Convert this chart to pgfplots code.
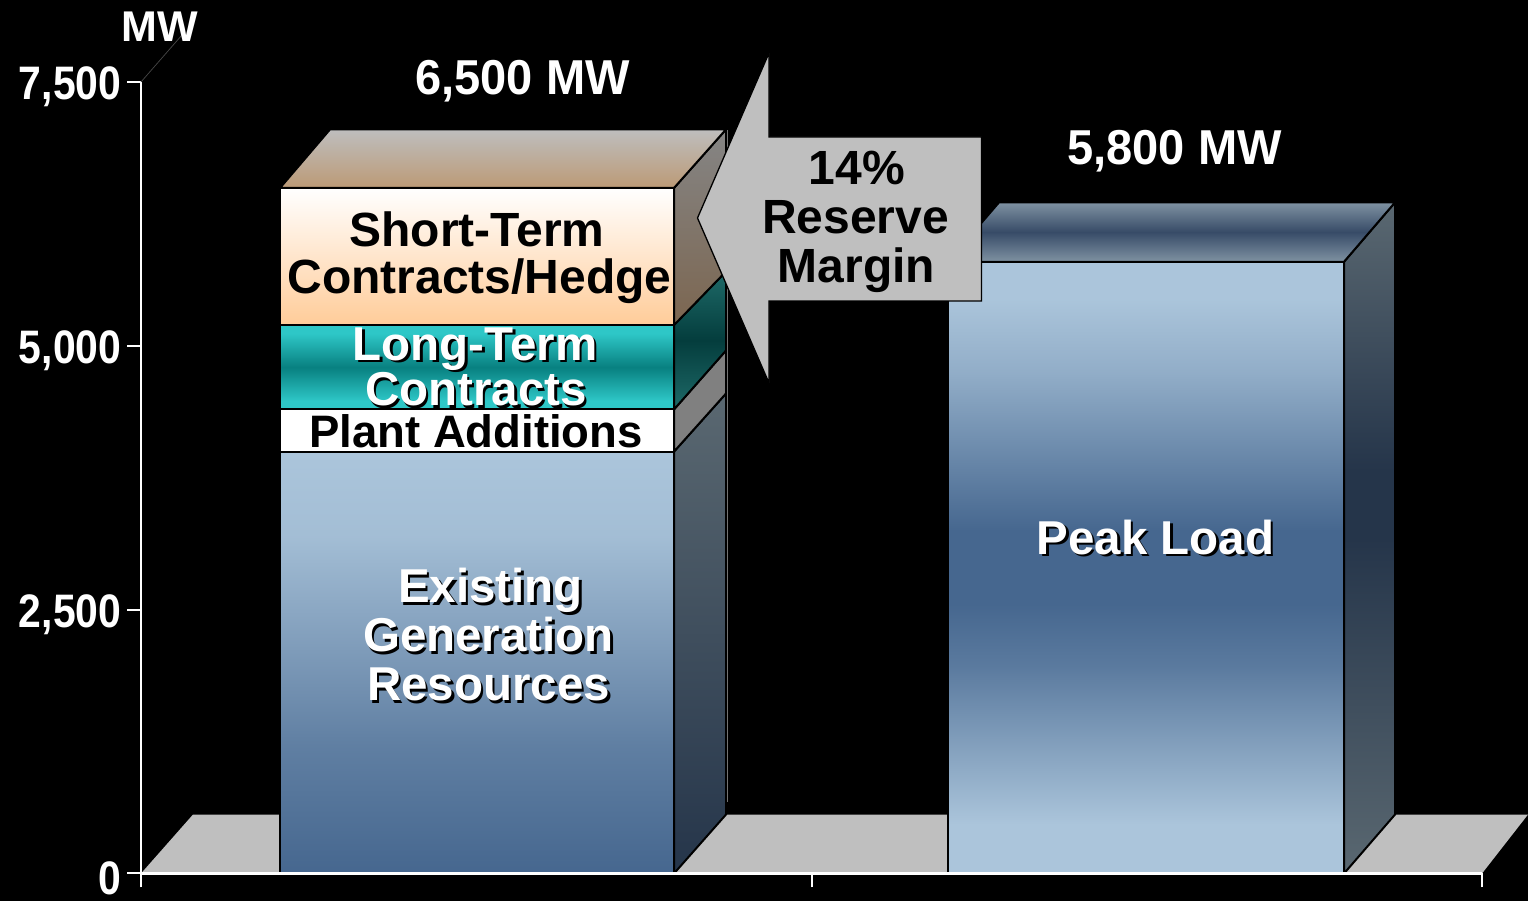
\documentclass[border=0pt]{standalone}
\usepackage{fontspec}
\usepackage{pgfplots}
\pgfplotsset{compat=1.18}
\setmainfont{Liberation Sans}
\newfontfamily\narrowf[FakeStretch=0.87]{Liberation Sans}
\newfontfamily\midf[FakeStretch=0.96]{Liberation Sans}

\definecolor{blueL}{HTML}{ABC5DB}
\definecolor{blueM}{HTML}{7F99B5}
\definecolor{blueD}{HTML}{46678F}
\definecolor{sideL}{HTML}{5A6871}
\definecolor{sideD}{HTML}{25354A}
\definecolor{topL}{HTML}{7F92A2}
\definecolor{topD}{HTML}{374B67}
\definecolor{peach}{HTML}{FFCC99}
\definecolor{sideG}{HTML}{858585}
\definecolor{sideB}{HTML}{7C6650}
\definecolor{capG}{HTML}{BEBEBE}
\definecolor{capB}{HTML}{BC9A76}
\definecolor{tealL}{HTML}{2EC7C7}
\definecolor{tealD}{HTML}{088080}
\definecolor{stealL}{HTML}{1E6A68}
\definecolor{stealD}{HTML}{043D3D}
\definecolor{floorG}{HTML}{BFBFBF}

% shadings: the path's box is mapped to 25bp..75bp
\pgfdeclareverticalshading{existF}{100bp}{color(0bp)=(blueD); color(25bp)=(blueD); color(40bp)=(blueD!75!blueL); color(65bp)=(blueL!92!blueD); color(75bp)=(blueL); color(100bp)=(blueL)}
\pgfdeclareverticalshading{existS}{100bp}{color(0bp)=(sideD); color(25bp)=(sideD); color(75bp)=(sideL); color(100bp)=(sideL)}
\pgfdeclareverticalshading{peakF}{100bp}{color(0bp)=(blueL); color(25bp)=(blueL); color(29bp)=(blueL); color(42bp)=(blueD!80!blueL); color(47bp)=(blueD); color(53bp)=(blueD); color(66bp)=(blueL!75!blueD); color(72bp)=(blueL); color(75bp)=(blueL); color(100bp)=(blueL)}
\pgfdeclareverticalshading{peakS}{100bp}{color(0bp)=(sideL); color(25bp)=(sideL); color(50bp)=(sideD); color(55bp)=(sideD); color(75bp)=(sideL); color(100bp)=(sideL)}
\pgfdeclareverticalshading{peakT}{100bp}{color(0bp)=(topL); color(25bp)=(topL); color(50bp)=(topD); color(75bp)=(topL); color(100bp)=(topL)}
\pgfdeclareverticalshading{shortF}{100bp}{color(0bp)=(peach); color(25bp)=(peach); color(75bp)=(white); color(100bp)=(white)}
\pgfdeclareverticalshading{shortS}{100bp}{color(0bp)=(sideB); color(25bp)=(sideB); color(75bp)=(sideG); color(100bp)=(sideG)}
\pgfdeclareverticalshading{shortT}{100bp}{color(0bp)=(capB); color(25bp)=(capB); color(75bp)=(capG); color(100bp)=(capG)}
\pgfdeclareverticalshading{longF}{100bp}{color(0bp)=(tealL); color(25bp)=(tealL); color(30bp)=(tealL); color(50bp)=(tealD); color(70bp)=(tealL); color(75bp)=(tealL); color(100bp)=(tealL)}
\pgfdeclareverticalshading{longS}{100bp}{color(0bp)=(stealL); color(25bp)=(stealL); color(50bp)=(stealD); color(75bp)=(stealL); color(100bp)=(stealL)}

\pgfplotsset{face/.style={draw=black, line width=2pt, line join=miter, forget plot, mark=none}}
\tikzset{sh/.style={font=\bfseries\fontsize{48}{48}\selectfont, inner sep=0pt, anchor=base},
  shw/.style={font=\bfseries\fontsize{47.5}{47.5}\selectfont, inner sep=0pt, anchor=base}}
\newcommand{\shadowed}[3]{%
  \node[shw, text=black] at (#1+2.5,#2-2.5) {#3};
  \node[shw, text=white] at (#1,#2) {#3};}

\begin{document}
\begin{tikzpicture}[x=1pt,y=1pt]
\fill[black] (0,0) rectangle (1528,901);
\path[use as bounding box] (0,0) rectangle (1528,901);
\begin{axis}[
  at={(141pt,27.5pt)}, anchor=origin, scale only axis,
  width=1341pt, height=791pt,
  xmin=141, xmax=1482, ymin=0, ymax=7500,
  clip=false, axis on top,
  axis lines=left, axis line style={-, white, line width=2.2pt},
  xtick={141,812,1482}, xticklabels={,,},
  ytick={0,2500,5000,7500},
  tick align=outside, major tick length=14pt,
  tick style={white, line width=2pt},
  /pgf/number format/.cd, assume math mode=true, 1000 sep={,},
  /pgfplots/.cd,
  yticklabel style={font=\narrowf\bfseries\fontsize{47}{47}\selectfont, text=white, inner sep=0pt, xshift=-5.5pt, yshift=-4.5pt},
]
% floor
\addplot[fill=floorG, draw=none, forget plot, mark=none] coordinates {(141,0)(193,559)(1528,559)(1482,0)} --cycle;
% left stacked bar: sides
\addplot[face, shade, shading=existS] coordinates {(674,0)(726,559)(726,4551)(674,4000)} --cycle;
\addplot[face, fill=gray!100] coordinates {(674,4000)(726,4551)(726,4959)(674,4400)} --cycle;
\addplot[face, shade, shading=longS] coordinates {(674,4400)(726,4959)(726,5708)(674,5200)} --cycle;
\addplot[face, shade, shading=shortS] coordinates {(674,5200)(726,5708)(726,7055)(674,6500)} --cycle;
% left stacked bar: top
\addplot[face, shade, shading=shortT] coordinates {(280,6500)(674,6500)(726,7055)(330,7055)} --cycle;
% left stacked bar: fronts
\addplot[face, shade, shading=existF] coordinates {(280,0)(674,0)(674,4000)(280,4000)} --cycle;
\addplot[face, fill=white] coordinates {(280,4000)(674,4000)(674,4400)(280,4400)} --cycle;
\addplot[face, shade, shading=longF] coordinates {(280,4400)(674,4400)(674,5200)(280,5200)} --cycle;
\addplot[face, shade, shading=shortF] coordinates {(280,5200)(674,5200)(674,6500)(280,6500)} --cycle;
% peak load bar
\addplot[face, shade, shading=peakS] coordinates {(1344,0)(1395,559)(1395,6363)(1344,5800)} --cycle;
\addplot[face, shade, shading=peakT] coordinates {(948,5800)(1344,5800)(1395,6363)(999,6363)} --cycle;
\addplot[face, shade, shading=peakF] coordinates {(948,0)(1344,0)(1344,5800)(948,5800)} --cycle;
\end{axis}
% hairline beside the left bar's side
\draw[black!55, line width=0.6pt] (727,901-130) -- (727,901-802);
% reserve margin arrow
\draw[fill=floorG, draw=black, line width=1.3pt, line join=miter]
  (769,901-53) -- (697.5,901-218) -- (769,901-383) -- (769,901-301) -- (981.5,901-301) -- (981.5,901-137) -- (769,901-137) -- cycle;
% thin line to the unit
\draw[black!72, line width=0.7pt] (141,901-82) -- (182,901-35);
\node[sh, text=white, font=\bfseries\fontsize{43}{43}\selectfont] at (160,901-42) {MW};
\node[sh, text=white, font=\midf\bfseries\fontsize{49}{49}\selectfont] at (522.5,901-95) {6,500 MW};
\node[sh, text=white, font=\midf\bfseries\fontsize{49}{49}\selectfont] at (1174.5,901-165) {5,800 MW};
% labels on the bars
\node[sh] at (477,901-246.5) {Short-Term};
\node[sh] at (479.5,901-294) {Contracts/Hedge};
\shadowed{475}{901-360.5}{Long-Term}
\shadowed{476}{901-406}{Contracts}
\node[sh, font=\bfseries\fontsize{45.5}{45.5}\selectfont] at (476,901-448) {Plant Additions};
\shadowed{490.5}{901-603}{Existing}
\shadowed{488.5}{901-652}{Generation}
\shadowed{488.5}{901-701}{Resources}
\shadowed{1155.5}{901-554.5}{Peak Load}
\node[sh] at (857,901-185) {14\%};
\node[sh] at (855.5,901-234) {Reserve};
\node[sh] at (856.5,901-282.5) {Margin};
\end{tikzpicture}
\end{document}
